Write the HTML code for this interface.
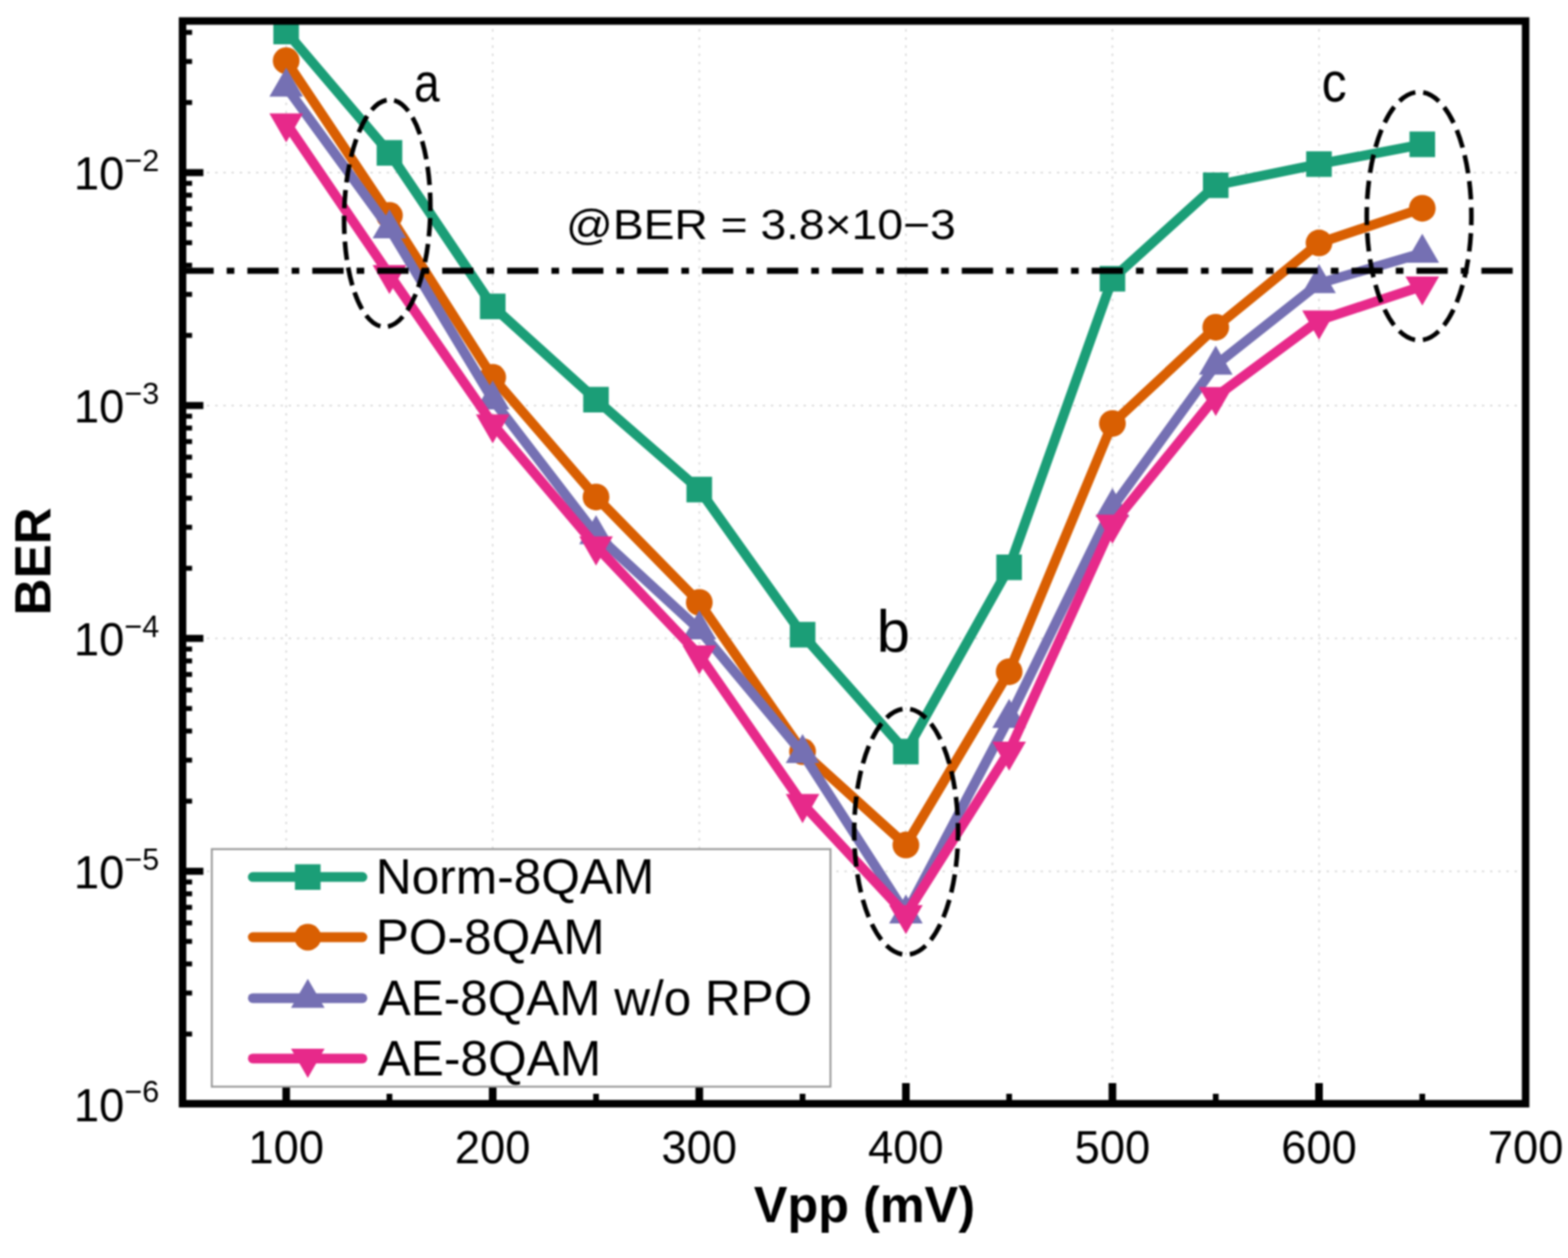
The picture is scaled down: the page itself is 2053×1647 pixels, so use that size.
<!DOCTYPE html>
<html><head><meta charset="utf-8"><title>BER vs Vpp</title>
<style>html,body{margin:0;padding:0;background:#fff;overflow:hidden}svg{display:block;filter:blur(1px)}text{font-family:"Liberation Sans",Arial,sans-serif;fill:#000}</style></head><body>
<svg width="2053" height="1647" viewBox="0 0 2053 1647">
<rect width="2053" height="1647" fill="#fff"/>
<g stroke="#d6d6d6" stroke-width="2" stroke-dasharray="3 7.7"><line x1="374.7" y1="27.5" x2="374.7" y2="1445"/><line x1="645.1" y1="27.5" x2="645.1" y2="1445"/><line x1="915.6" y1="27.5" x2="915.6" y2="1445"/><line x1="1186.1" y1="27.5" x2="1186.1" y2="1445"/><line x1="1456.5" y1="27.5" x2="1456.5" y2="1445"/><line x1="1727.0" y1="27.5" x2="1727.0" y2="1445"/><line x1="239" y1="226.0" x2="1997.5" y2="226.0"/><line x1="239" y1="530.9" x2="1997.5" y2="530.9"/><line x1="239" y1="835.8" x2="1997.5" y2="835.8"/><line x1="239" y1="1140.7" x2="1997.5" y2="1140.7"/></g>
<polyline points="374.7,41.3 509.9,200.2 645.1,401.1 780.4,523.3 915.6,641.0 1050.8,831.0 1186.1,984.0 1321.3,742.8 1456.5,365.0 1591.8,242.6 1727.0,214.8 1862.2,189.0" fill="none" stroke="#1b9e77" stroke-width="12.8" stroke-linejoin="round" stroke-linecap="round"/>
<g><rect x="357.9" y="24.5" width="33.5" height="33.5" fill="#1b9e77"/><rect x="493.2" y="183.4" width="33.5" height="33.5" fill="#1b9e77"/><rect x="628.4" y="384.4" width="33.5" height="33.5" fill="#1b9e77"/><rect x="763.6" y="506.5" width="33.5" height="33.5" fill="#1b9e77"/><rect x="898.8" y="624.2" width="33.5" height="33.5" fill="#1b9e77"/><rect x="1034.1" y="814.2" width="33.5" height="33.5" fill="#1b9e77"/><rect x="1169.3" y="967.2" width="33.5" height="33.5" fill="#1b9e77"/><rect x="1304.5" y="726.0" width="33.5" height="33.5" fill="#1b9e77"/><rect x="1439.8" y="348.2" width="33.5" height="33.5" fill="#1b9e77"/><rect x="1575.0" y="225.8" width="33.5" height="33.5" fill="#1b9e77"/><rect x="1710.2" y="198.1" width="33.5" height="33.5" fill="#1b9e77"/><rect x="1845.5" y="172.2" width="33.5" height="33.5" fill="#1b9e77"/></g>
<polyline points="374.7,79.5 509.9,282.0 645.1,494.0 780.4,650.7 915.6,788.7 1050.8,984.0 1186.1,1106.3 1321.3,879.4 1456.5,554.4 1591.8,428.4 1727.0,318.1 1862.2,272.7" fill="none" stroke="#d95f02" stroke-width="12.8" stroke-linejoin="round" stroke-linecap="round"/>
<g><circle cx="374.7" cy="79.5" r="17.5" fill="#d95f02"/><circle cx="509.9" cy="282.0" r="17.5" fill="#d95f02"/><circle cx="645.1" cy="494.0" r="17.5" fill="#d95f02"/><circle cx="780.4" cy="650.7" r="17.5" fill="#d95f02"/><circle cx="915.6" cy="788.7" r="17.5" fill="#d95f02"/><circle cx="1050.8" cy="984.0" r="17.5" fill="#d95f02"/><circle cx="1186.1" cy="1106.3" r="17.5" fill="#d95f02"/><circle cx="1321.3" cy="879.4" r="17.5" fill="#d95f02"/><circle cx="1456.5" cy="554.4" r="17.5" fill="#d95f02"/><circle cx="1591.8" cy="428.4" r="17.5" fill="#d95f02"/><circle cx="1727.0" cy="318.1" r="17.5" fill="#d95f02"/><circle cx="1862.2" cy="272.7" r="17.5" fill="#d95f02"/></g>
<polyline points="374.7,113.8 509.9,299.3 645.1,523.3 780.4,699.8 915.6,824.3 1050.8,986.3 1186.1,1196.3 1321.3,940.3 1456.5,664.3 1591.8,477.9 1727.0,371.1 1862.2,331.3" fill="none" stroke="#7570b3" stroke-width="12.8" stroke-linejoin="round" stroke-linecap="round"/>
<g><polygon points="352.7,126.5 396.7,126.5 374.7,88.4" fill="#7570b3"/><polygon points="487.9,312.0 531.9,312.0 509.9,273.9" fill="#7570b3"/><polygon points="623.1,536.0 667.1,536.0 645.1,497.9" fill="#7570b3"/><polygon points="758.4,712.5 802.4,712.5 780.4,674.4" fill="#7570b3"/><polygon points="893.6,837.0 937.6,837.0 915.6,798.9" fill="#7570b3"/><polygon points="1028.8,999.0 1072.8,999.0 1050.8,960.9" fill="#7570b3"/><polygon points="1164.1,1209.0 1208.1,1209.0 1186.1,1170.9" fill="#7570b3"/><polygon points="1299.3,953.0 1343.3,953.0 1321.3,914.9" fill="#7570b3"/><polygon points="1434.5,677.0 1478.5,677.0 1456.5,638.9" fill="#7570b3"/><polygon points="1569.8,490.6 1613.8,490.6 1591.8,452.5" fill="#7570b3"/><polygon points="1705.0,383.8 1749.0,383.8 1727.0,345.7" fill="#7570b3"/><polygon points="1840.2,344.0 1884.2,344.0 1862.2,305.9" fill="#7570b3"/></g>
<polyline points="374.7,161.2 509.9,359.7 645.1,555.1 780.4,715.0 915.6,857.7 1050.8,1052.3 1186.1,1197.7 1321.3,983.7 1456.5,686.5 1591.8,519.4 1727.0,419.3 1862.2,374.7" fill="none" stroke="#e7298a" stroke-width="12.8" stroke-linejoin="round" stroke-linecap="round"/>
<g><polygon points="352.7,148.5 396.7,148.5 374.7,186.6" fill="#e7298a"/><polygon points="487.9,347.0 531.9,347.0 509.9,385.1" fill="#e7298a"/><polygon points="623.1,542.4 667.1,542.4 645.1,580.5" fill="#e7298a"/><polygon points="758.4,702.3 802.4,702.3 780.4,740.4" fill="#e7298a"/><polygon points="893.6,845.0 937.6,845.0 915.6,883.1" fill="#e7298a"/><polygon points="1028.8,1039.6 1072.8,1039.6 1050.8,1077.7" fill="#e7298a"/><polygon points="1164.1,1185.0 1208.1,1185.0 1186.1,1223.1" fill="#e7298a"/><polygon points="1299.3,971.0 1343.3,971.0 1321.3,1009.1" fill="#e7298a"/><polygon points="1434.5,673.8 1478.5,673.8 1456.5,711.9" fill="#e7298a"/><polygon points="1569.8,506.7 1613.8,506.7 1591.8,544.8" fill="#e7298a"/><polygon points="1705.0,406.6 1749.0,406.6 1727.0,444.7" fill="#e7298a"/><polygon points="1840.2,362.0 1884.2,362.0 1862.2,400.1" fill="#e7298a"/></g>
<line x1="238.8" y1="354.5" x2="1997.5" y2="354.5" stroke="#000" stroke-width="8" stroke-dasharray="41 17.02 10 17.02"/>
<g fill="none" stroke="#000" stroke-width="6">
<ellipse cx="507" cy="279.2" rx="56.4" ry="148.7" stroke-dasharray="24 9.869" stroke-dashoffset="28.935" transform="rotate(1.5 507 279.2)"/>
<ellipse cx="1186.4" cy="1088.9" rx="68" ry="161" stroke-dasharray="24 10.064" stroke-dashoffset="12.000"/>
<ellipse cx="1858" cy="283" rx="68.5" ry="162.5" stroke-dasharray="24 10.367" stroke-dashoffset="12.000"/>
</g>
<text transform="translate(541.9,132.5) scale(0.845,1)" font-size="71.6">a</text>
<text transform="translate(1147.7,854) scale(1,1)" font-size="78.6">b</text>
<text transform="translate(1730.4,133.4) scale(0.88,1)" font-size="74.2">c</text>
<text transform="translate(741,313) scale(1.1,1)" font-size="55">@BER = 3.8×10−3</text>
<rect x="239" y="27.5" width="1758.5" height="1417.5" fill="none" stroke="#000" stroke-width="9.8"/>
<g stroke="#000"><line x1="374.7" y1="1445" x2="374.7" y2="1418" stroke-width="10"/><line x1="645.1" y1="1445" x2="645.1" y2="1418" stroke-width="10"/><line x1="915.6" y1="1445" x2="915.6" y2="1418" stroke-width="10"/><line x1="1186.1" y1="1445" x2="1186.1" y2="1418" stroke-width="10"/><line x1="1456.5" y1="1445" x2="1456.5" y2="1418" stroke-width="10"/><line x1="1727.0" y1="1445" x2="1727.0" y2="1418" stroke-width="10"/><line x1="509.9" y1="1445" x2="509.9" y2="1432" stroke-width="7.5"/><line x1="780.4" y1="1445" x2="780.4" y2="1432" stroke-width="7.5"/><line x1="1050.8" y1="1445" x2="1050.8" y2="1432" stroke-width="7.5"/><line x1="1321.3" y1="1445" x2="1321.3" y2="1432" stroke-width="7.5"/><line x1="1591.8" y1="1445" x2="1591.8" y2="1432" stroke-width="7.5"/><line x1="1862.2" y1="1445" x2="1862.2" y2="1432" stroke-width="7.5"/><line x1="239" y1="226.0" x2="266.3" y2="226.0" stroke-width="9.2"/><line x1="239" y1="530.9" x2="266.3" y2="530.9" stroke-width="9.2"/><line x1="239" y1="835.8" x2="266.3" y2="835.8" stroke-width="9.2"/><line x1="239" y1="1140.7" x2="266.3" y2="1140.7" stroke-width="9.2"/><line x1="239" y1="1353.8" x2="251.5" y2="1353.8" stroke-width="6.5"/><line x1="239" y1="1300.1" x2="251.5" y2="1300.1" stroke-width="6.5"/><line x1="239" y1="1262.0" x2="251.5" y2="1262.0" stroke-width="6.5"/><line x1="239" y1="1232.5" x2="251.5" y2="1232.5" stroke-width="6.5"/><line x1="239" y1="1208.3" x2="251.5" y2="1208.3" stroke-width="6.5"/><line x1="239" y1="1187.9" x2="251.5" y2="1187.9" stroke-width="6.5"/><line x1="239" y1="1170.2" x2="251.5" y2="1170.2" stroke-width="6.5"/><line x1="239" y1="1154.7" x2="251.5" y2="1154.7" stroke-width="6.5"/><line x1="239" y1="1048.9" x2="251.5" y2="1048.9" stroke-width="6.5"/><line x1="239" y1="995.2" x2="251.5" y2="995.2" stroke-width="6.5"/><line x1="239" y1="957.1" x2="251.5" y2="957.1" stroke-width="6.5"/><line x1="239" y1="927.6" x2="251.5" y2="927.6" stroke-width="6.5"/><line x1="239" y1="903.4" x2="251.5" y2="903.4" stroke-width="6.5"/><line x1="239" y1="883.0" x2="251.5" y2="883.0" stroke-width="6.5"/><line x1="239" y1="865.3" x2="251.5" y2="865.3" stroke-width="6.5"/><line x1="239" y1="849.8" x2="251.5" y2="849.8" stroke-width="6.5"/><line x1="239" y1="744.0" x2="251.5" y2="744.0" stroke-width="6.5"/><line x1="239" y1="690.3" x2="251.5" y2="690.3" stroke-width="6.5"/><line x1="239" y1="652.2" x2="251.5" y2="652.2" stroke-width="6.5"/><line x1="239" y1="622.7" x2="251.5" y2="622.7" stroke-width="6.5"/><line x1="239" y1="598.5" x2="251.5" y2="598.5" stroke-width="6.5"/><line x1="239" y1="578.1" x2="251.5" y2="578.1" stroke-width="6.5"/><line x1="239" y1="560.4" x2="251.5" y2="560.4" stroke-width="6.5"/><line x1="239" y1="544.9" x2="251.5" y2="544.9" stroke-width="6.5"/><line x1="239" y1="439.1" x2="251.5" y2="439.1" stroke-width="6.5"/><line x1="239" y1="385.4" x2="251.5" y2="385.4" stroke-width="6.5"/><line x1="239" y1="347.3" x2="251.5" y2="347.3" stroke-width="6.5"/><line x1="239" y1="317.8" x2="251.5" y2="317.8" stroke-width="6.5"/><line x1="239" y1="293.6" x2="251.5" y2="293.6" stroke-width="6.5"/><line x1="239" y1="273.2" x2="251.5" y2="273.2" stroke-width="6.5"/><line x1="239" y1="255.5" x2="251.5" y2="255.5" stroke-width="6.5"/><line x1="239" y1="240.0" x2="251.5" y2="240.0" stroke-width="6.5"/><line x1="239" y1="134.2" x2="251.5" y2="134.2" stroke-width="6.5"/><line x1="239" y1="80.5" x2="251.5" y2="80.5" stroke-width="6.5"/><line x1="239" y1="42.4" x2="251.5" y2="42.4" stroke-width="6.5"/></g>
<rect x="277.3" y="1111.7" width="810" height="311" fill="#fff" stroke="#999" stroke-width="2.5"/>
<line x1="331" y1="1148.2" x2="474.5" y2="1148.2" stroke="#1b9e77" stroke-width="12.8" stroke-linecap="round"/>
<rect x="386.2" y="1131.5" width="33.5" height="33.5" fill="#1b9e77"/>
<text x="492" y="1170.2" font-size="65">Norm-8QAM</text>
<line x1="331" y1="1227" x2="474.5" y2="1227" stroke="#d95f02" stroke-width="12.8" stroke-linecap="round"/>
<circle cx="403.0" cy="1227.0" r="17.5" fill="#d95f02"/>
<text x="492" y="1249.0" font-size="65">PO-8QAM</text>
<line x1="331" y1="1306.8" x2="474.5" y2="1306.8" stroke="#7570b3" stroke-width="12.8" stroke-linecap="round"/>
<polygon points="381.0,1319.5 425.0,1319.5 403.0,1281.4" fill="#7570b3"/>
<text x="494.5" y="1328.8" font-size="65" textLength="569" lengthAdjust="spacingAndGlyphs">AE-8QAM w/o RPO</text>
<line x1="331" y1="1385.8" x2="474.5" y2="1385.8" stroke="#e7298a" stroke-width="12.8" stroke-linecap="round"/>
<polygon points="381.0,1373.1 425.0,1373.1 403.0,1411.2" fill="#e7298a"/>
<text x="494.5" y="1407.8" font-size="65">AE-8QAM</text>
<text transform="translate(374.7,1522.8) scale(0.965,1)" font-size="61.5" text-anchor="middle">100</text>
<text transform="translate(645.1,1522.8) scale(0.965,1)" font-size="61.5" text-anchor="middle">200</text>
<text transform="translate(915.6,1522.8) scale(0.965,1)" font-size="61.5" text-anchor="middle">300</text>
<text transform="translate(1186.1,1522.8) scale(0.965,1)" font-size="61.5" text-anchor="middle">400</text>
<text transform="translate(1456.5,1522.8) scale(0.965,1)" font-size="61.5" text-anchor="middle">500</text>
<text transform="translate(1727.0,1522.8) scale(0.965,1)" font-size="61.5" text-anchor="middle">600</text>
<text transform="translate(1997.4,1522.8) scale(0.965,1)" font-size="61.5" text-anchor="middle">700</text>
<text transform="translate(208.5,248.3) scale(0.965,1)" font-size="61.5" text-anchor="end">10<tspan font-size="41.5" dy="-24.5">−2</tspan></text>
<text transform="translate(208.5,553.2) scale(0.965,1)" font-size="61.5" text-anchor="end">10<tspan font-size="41.5" dy="-24.5">−3</tspan></text>
<text transform="translate(208.5,858.1) scale(0.965,1)" font-size="61.5" text-anchor="end">10<tspan font-size="41.5" dy="-24.5">−4</tspan></text>
<text transform="translate(208.5,1163.0) scale(0.965,1)" font-size="61.5" text-anchor="end">10<tspan font-size="41.5" dy="-24.5">−5</tspan></text>
<text transform="translate(208.5,1467.9) scale(0.965,1)" font-size="61.5" text-anchor="end">10<tspan font-size="41.5" dy="-24.5">−6</tspan></text>
<text x="1131.8" y="1600.3" font-size="66" font-weight="bold" text-anchor="middle">Vpp (mV)</text>
<text transform="translate(66,735) rotate(-90)" font-size="67" font-weight="bold" text-anchor="middle">BER</text>
</svg></body></html>
